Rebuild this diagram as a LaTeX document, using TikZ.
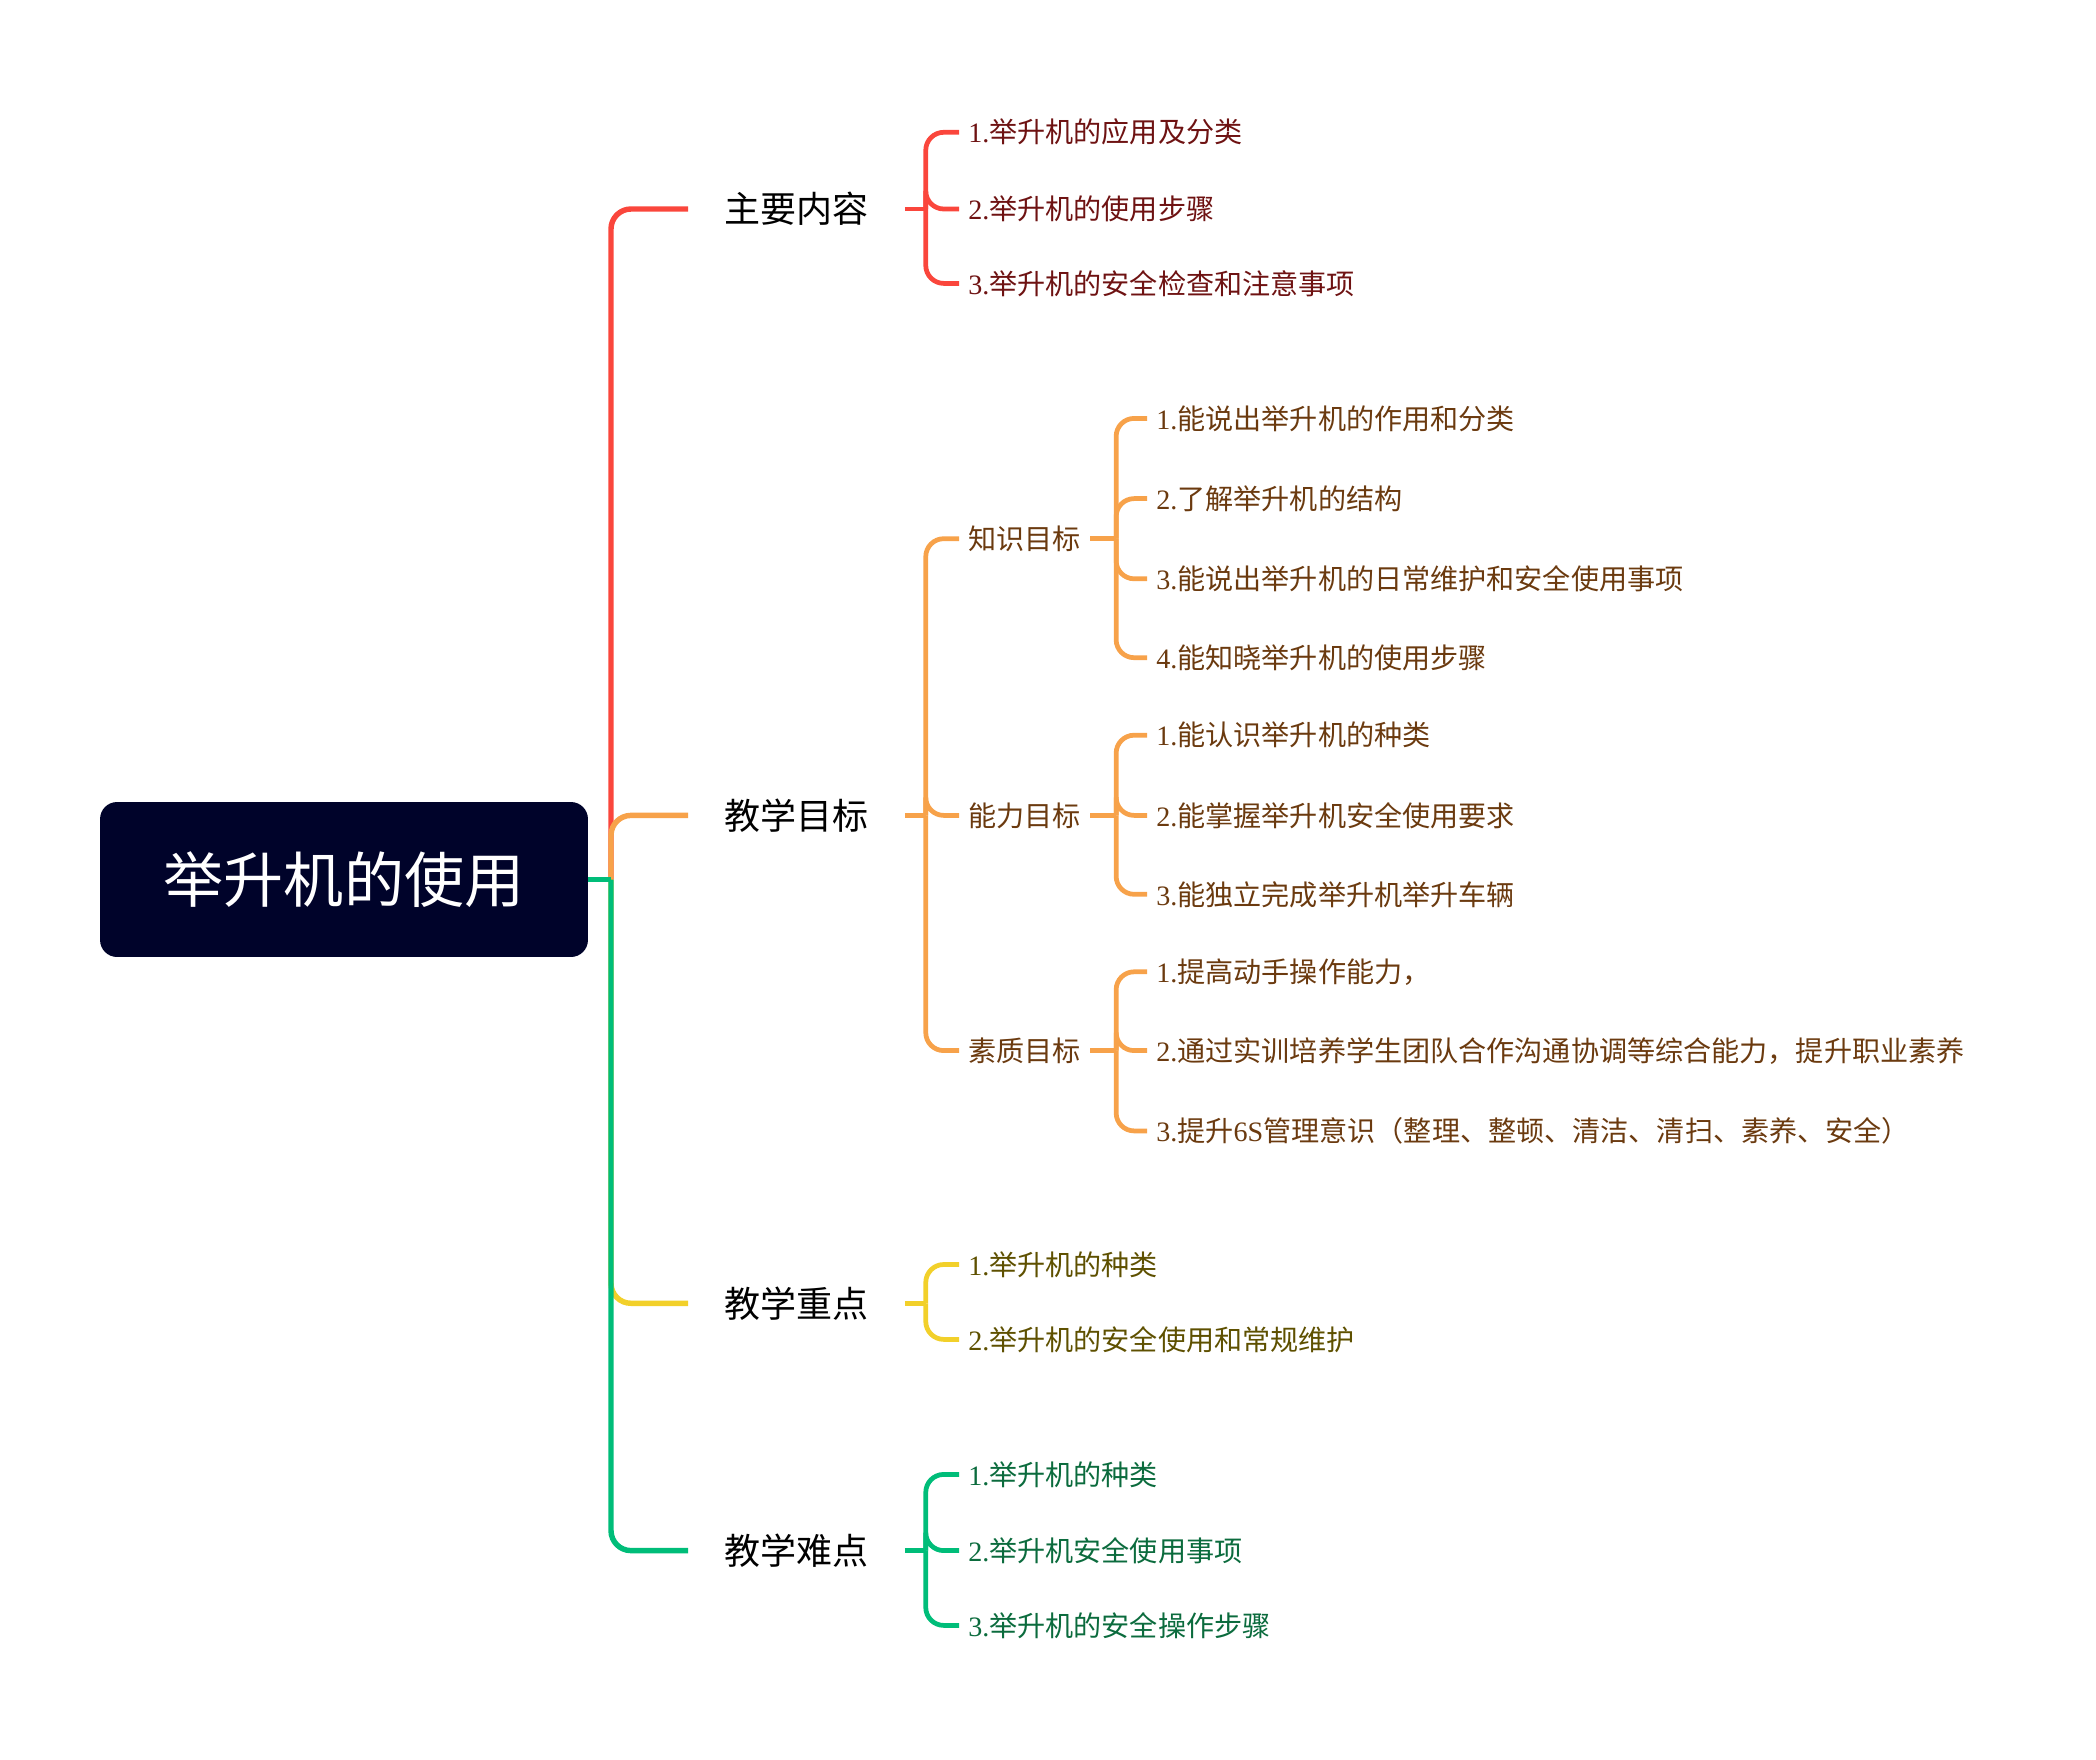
\documentclass[tikz,border=0pt]{standalone}
\usepackage{fontspec}
\setmainfont{Liberation Serif}
\newfontfamily\cjk{Noto Sans CJK SC}
\newfontfamily\lat{Liberation Serif}
\newcommand{\dg}[1]{{\lat #1}}

\definecolor{redline}{HTML}{FA463C}
\definecolor{orangeline}{HTML}{F7A24A}
\definecolor{yellowline}{HTML}{F2D02A}
\definecolor{greenline}{HTML}{00BD79}
\definecolor{redtext}{HTML}{6E1212}
\definecolor{browntext}{HTML}{6B3A0F}
\definecolor{olivetext}{HTML}{5E5000}
\definecolor{greentext}{HTML}{0B6B3D}
\definecolor{rootfill}{HTML}{00032A}

\tikzset{
    rootbox/.style={fill=rootfill, text=white, rounded corners=0.34cm,
        minimum width=9.76cm, minimum height=3.1cm,
        font=\cjk\fontsize{34.2}{40}\selectfont},
    topic/.style={anchor=west, inner xsep=0.72cm, inner ysep=2pt,
        font=\cjk\fontsize{20.5}{24}\selectfont},
    leaf/.style={anchor=west, inner xsep=0.18cm, inner ysep=2pt,
        font=\cjk\fontsize{16}{19}\selectfont},
    trunk/.style={line width=3.1pt, rounded corners=0.4cm},
    twig/.style={line width=2.7pt, rounded corners=0.36cm}
}

\begin{document}
\begin{tikzpicture}[x=0.02cm, y=-0.02cm]
    \useasboundingbox (0,0) rectangle (2096,1760);

    % Root
    \node[rootbox] (root) at (344,879.5) {举升机的使用};
    \coordinate (hub) at (611,879.5);

    % First level
    \node[topic] (content) at (688,209) {主要内容};
    \node[topic] (goal) at (688,815.4) {教学目标};
    \node[topic] (key) at (688,1303.3) {教学重点};
    \node[topic] (hard) at (688,1550.6) {教学难点};

    % Main content
    \node[leaf, text=redtext] (c1) at (959,132.3) {\dg{1.}举升机的应用及分类};
    \node[leaf, text=redtext] (c2) at (959,209) {\dg{2.}举升机的使用步骤};
    \node[leaf, text=redtext] (c3) at (959,283.4) {\dg{3.}举升机的安全检查和注意事项};

    % Teaching goals
    \node[leaf, text=browntext] (know) at (959,538.7) {知识目标};
    \node[leaf, text=browntext] (skill) at (959,815.4) {能力目标};
    \node[leaf, text=browntext] (quality) at (959,1050.6) {素质目标};

    \node[leaf, text=browntext] (k1) at (1147,418.4) {\dg{1.}能说出举升机的作用和分类};
    \node[leaf, text=browntext] (k2) at (1147,498.6) {\dg{2.}了解举升机的结构};
    \node[leaf, text=browntext] (k3) at (1147,578.8) {\dg{3.}能说出举升机的日常维护和安全使用事项};
    \node[leaf, text=browntext] (k4) at (1147,657.7) {\dg{4.}能知晓举升机的使用步骤};

    \node[leaf, text=browntext] (s1) at (1147,735.2) {\dg{1.}能认识举升机的种类};
    \node[leaf, text=browntext] (s2) at (1147,815.4) {\dg{2.}能掌握举升机安全使用要求};
    \node[leaf, text=browntext] (s3) at (1147,894.3) {\dg{3.}能独立完成举升机举升车辆};

    \node[leaf, text=browntext] (q1) at (1147,971.8) {\dg{1.}提高动手操作能力，};
    \node[leaf, text=browntext] (q2) at (1147,1050.6) {\dg{2.}通过实训培养学生团队合作沟通协调等综合能力，提升职业素养};
    \node[leaf, text=browntext] (q3) at (1147,1130.9) {\dg{3.}提升\dg{6S}管理意识（整理、整顿、清洁、清扫、素养、安全）};

    % Key points
    \node[leaf, text=olivetext] (y1) at (959,1264.5) {\dg{1.}举升机的种类};
    \node[leaf, text=olivetext] (y2) at (959,1339.4) {\dg{2.}举升机的安全使用和常规维护};

    % Difficult points
    \node[leaf, text=greentext] (h1) at (959,1474.4) {\dg{1.}举升机的种类};
    \node[leaf, text=greentext] (h2) at (959,1550.6) {\dg{2.}举升机安全使用事项};
    \node[leaf, text=greentext] (h3) at (959,1625.4) {\dg{3.}举升机的安全操作步骤};

    % Trunk lines
    \draw[trunk, redline] (hub) |- (content.west);
    \draw[trunk, orangeline] (hub) |- (goal.west);
    \draw[trunk, yellowline] (hub) |- (key.west);
    \draw[trunk, greenline] (hub) |- (hard.west);
    \draw[trunk, greenline, sharp corners] (root.east) -- (hub);

    % Brackets
    \draw[twig, redline] (content.east) -- ++(21,0) coordinate (cb);
    \foreach \l in {c1,c2,c3}
        \draw[twig, redline] (cb) |- (\l.west);

    \draw[twig, orangeline] (goal.east) -- ++(21,0) coordinate (gb);
    \foreach \l in {know,skill,quality}
        \draw[twig, orangeline] (gb) |- (\l.west);

    \draw[twig, orangeline] (know.east) -- ++(26,0) coordinate (kb);
    \foreach \l in {k1,k2,k3,k4}
        \draw[twig, orangeline] (kb) |- (\l.west);

    \draw[twig, orangeline] (skill.east) -- ++(26,0) coordinate (sb);
    \foreach \l in {s1,s2,s3}
        \draw[twig, orangeline] (sb) |- (\l.west);

    \draw[twig, orangeline] (quality.east) -- ++(26,0) coordinate (qb);
    \foreach \l in {q1,q2,q3}
        \draw[twig, orangeline] (qb) |- (\l.west);

    \draw[twig, yellowline] (key.east) -- ++(21,0) coordinate (yb);
    \foreach \l in {y1,y2}
        \draw[twig, yellowline] (yb) |- (\l.west);

    \draw[twig, greenline] (hard.east) -- ++(21,0) coordinate (hb);
    \foreach \l in {h1,h2,h3}
        \draw[twig, greenline] (hb) |- (\l.west);
\end{tikzpicture}
\end{document}
